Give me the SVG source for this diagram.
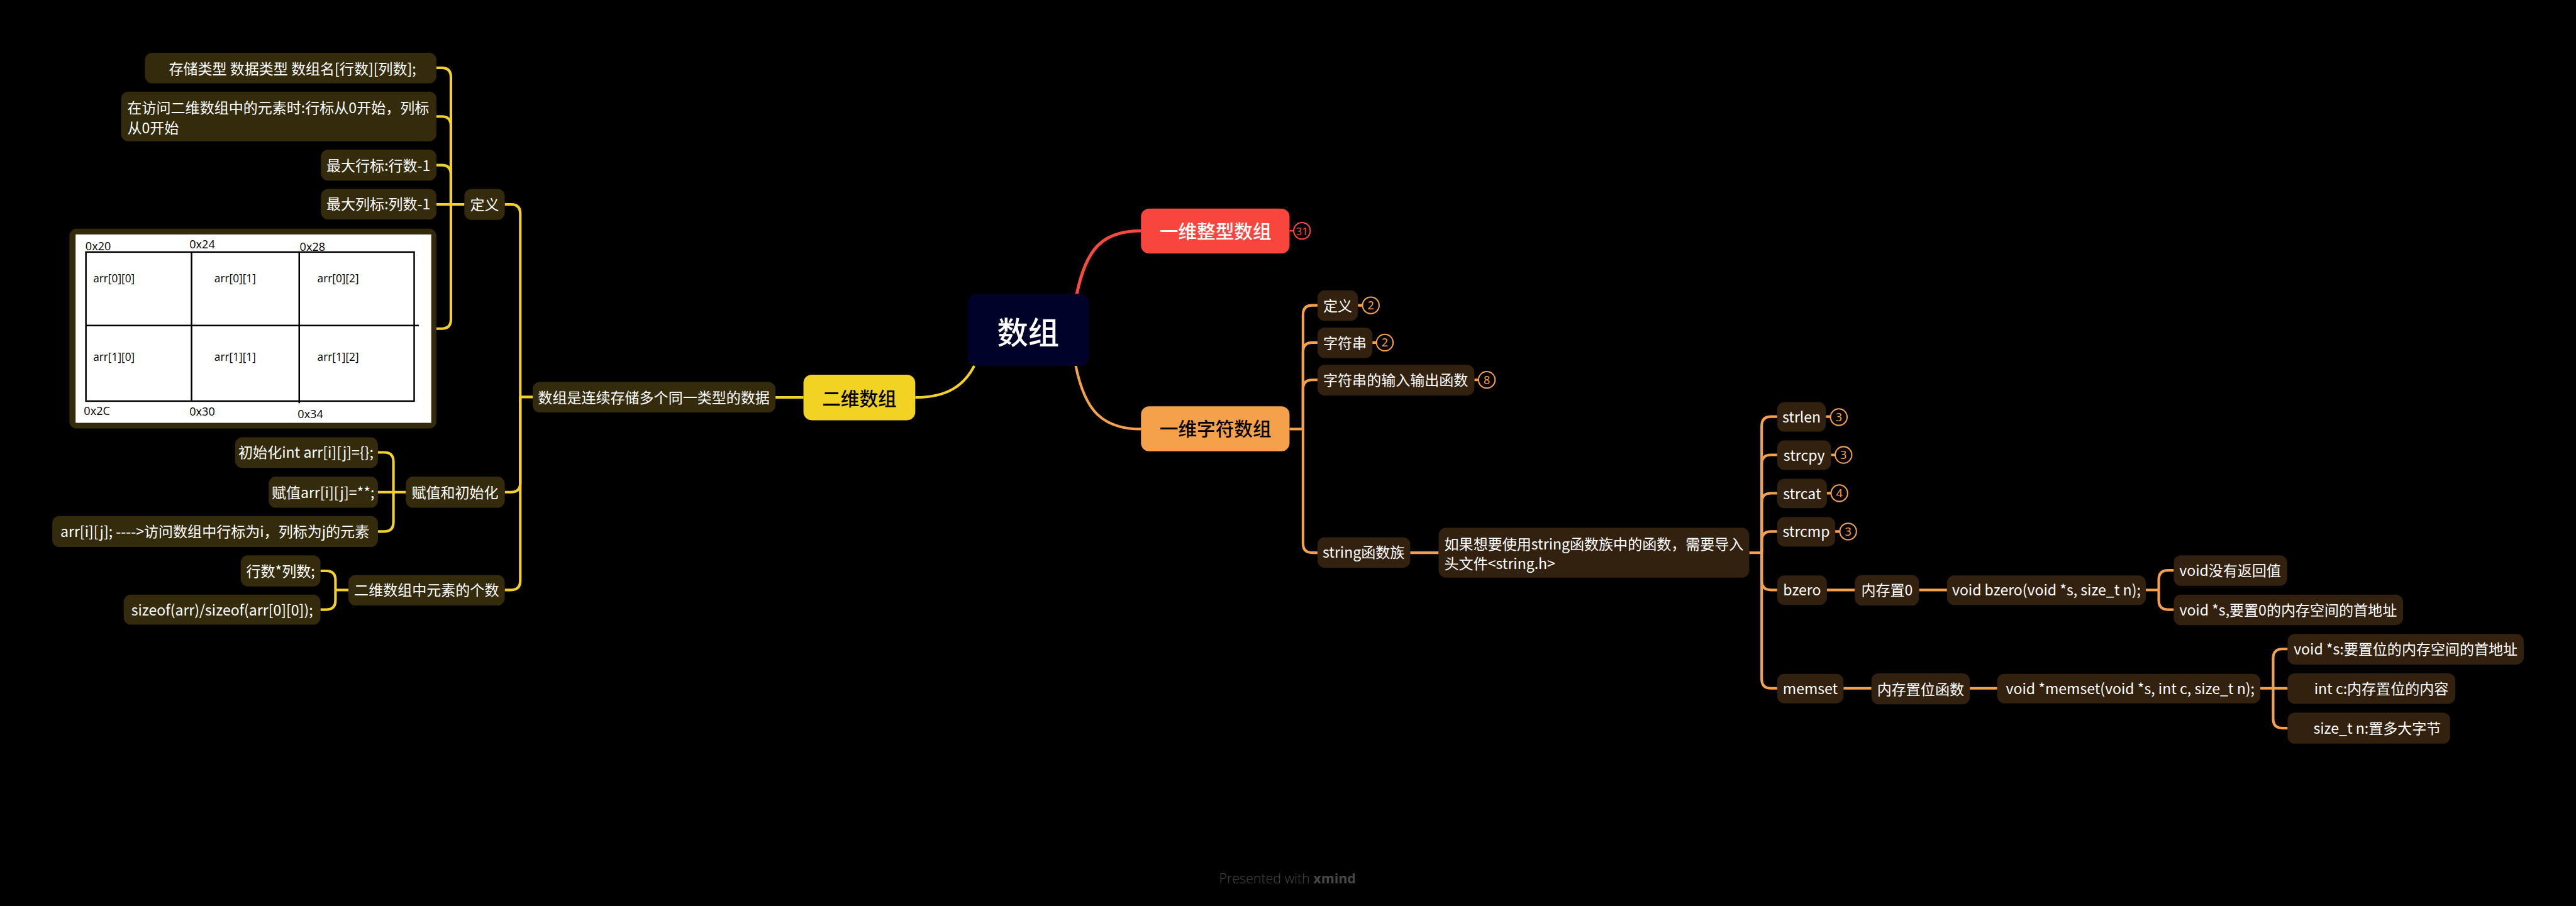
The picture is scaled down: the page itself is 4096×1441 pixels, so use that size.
<svg xmlns="http://www.w3.org/2000/svg" width="4096" height="1441" viewBox="0 0 4096 1441">
<style>
.ny{fill:#332B0C}
.no{fill:#33210F}
.t{font-family:"Noto Sans CJK SC","Noto Sans",sans-serif;font-size:28px;fill:#FFFFFF;text-anchor:middle}
.ts{font-family:"Noto Sans CJK SC","Noto Sans",sans-serif;font-size:28px;fill:#FFFFFF}
.tb{font-family:"Noto Sans CJK SC","Noto Sans",sans-serif;font-size:36px;text-anchor:middle;font-weight:500}
.ly{fill:none;stroke:#F2D22A;stroke-width:5}
.lo{fill:none;stroke:#F5A04B;stroke-width:5}
.lr{fill:none;stroke:#F84A3F;stroke-width:6}
.bo{fill:#000;stroke:#F5A04B;stroke-width:2.5}
.bn{font-family:"Noto Sans","Liberation Sans",sans-serif;font-size:22px;fill:#F5A04B;text-anchor:middle}
.tl{font-family:"Open Sans","Liberation Sans",sans-serif;font-size:22px;fill:#000}
.ta{font-family:"Open Sans","Liberation Sans",sans-serif;font-size:21px;fill:#000}
</style>
<rect width="4096" height="1441" fill="#000"/>
<g transform="scale(0.82315)">
<g id="connectors">
<path class="ly" d="M1882,707 C1862,745 1830,768 1768,768" stroke-width="6"/>
<path class="lr" d="M2080,568 C2098,480 2130,446 2204,446"/>
<path class="lo" d="M2078,707 C2096,795 2130,829 2204,829" stroke-width="6"/>
<path class="ly" d="M1552,768 H1498"/>
<path class="ly" d="M1029,767 H1005 V413 Q1005,395 987,395 H975"/>
<path class="ly" d="M1005,767 V933 Q1005,951 987,951 H975"/>
<path class="ly" d="M1005,767 V1122 Q1005,1140 987,1140 H975"/>
<path class="ly" d="M897,395 H843"/>
<path class="ly" d="M871,395 V149 Q871,131 853,131 H843"/>
<path class="ly" d="M871,395 V243 Q871,225 853,225 H843"/>
<path class="ly" d="M871,395 V337 Q871,319 853,319 H843"/>
<path class="ly" d="M871,395 V617 Q871,635 853,635 H843"/>
<path class="ly" d="M784,951 H730"/>
<path class="ly" d="M760,951 V892 Q760,874 742,874 H730"/>
<path class="ly" d="M760,951 V1009 Q760,1027 742,1027 H730"/>
<path class="ly" d="M673,1140 H648"/>
<path class="ly" d="M648,1140 V1121 Q648,1103 630,1103 H619"/>
<path class="ly" d="M648,1140 V1160 Q648,1178 630,1178 H619"/>
<path class="lo" d="M2491,829 H2517"/>
<path class="lo" d="M2517,829 V608 Q2517,590 2535,590 H2545"/>
<path class="lo" d="M2517,829 V680 Q2517,662 2535,662 H2545"/>
<path class="lo" d="M2517,829 V752 Q2517,734 2535,734 H2545"/>
<path class="lo" d="M2517,829 V1050 Q2517,1068 2535,1068 H2545"/>
<path class="lo" d="M2724,1068 H2779"/>
<path class="lo" d="M3379,1068 H3403"/>
<path class="lo" d="M3403,1068 V823 Q3403,805 3421,805 H3433"/>
<path class="lo" d="M3403,1068 V897 Q3403,879 3421,879 H3433"/>
<path class="lo" d="M3403,1068 V971 Q3403,953 3421,953 H3433"/>
<path class="lo" d="M3403,1068 V1045 Q3403,1027 3421,1027 H3433"/>
<path class="lo" d="M3403,1068 V1122 Q3403,1140 3421,1140 H3433"/>
<path class="lo" d="M3403,1068 V1312 Q3403,1330 3421,1330 H3433"/>
<path class="lo" d="M3529,1140 H3583"/>
<path class="lo" d="M3707,1140 H3761"/>
<path class="lo" d="M4145,1140 H4170"/>
<path class="lo" d="M4170,1140 V1120 Q4170,1102 4188,1102 H4199"/>
<path class="lo" d="M4170,1140 V1160 Q4170,1178 4188,1178 H4199"/>
<path class="lo" d="M3561,1330 H3615"/>
<path class="lo" d="M3805,1330 H3858"/>
<path class="lo" d="M4366,1330 H4419"/>
<path class="lo" d="M4391,1330 V1272 Q4391,1254 4409,1254 H4419"/>
<path class="lo" d="M4391,1330 V1389 Q4391,1407 4409,1407 H4419"/>
<path class="lo" d="M2623,590 H2632 M2651,662 H2659 M2848,734 H2856 M3527,805 H3536 M3537,879 H3545 M3529,953 H3537 M3545,1027 H3554" stroke-width="3"/>
<path d="M2491,446 H2499" stroke="#F84A3F" stroke-width="3"/>
</g>

<g id="root">
<rect x="1869" y="568" width="235" height="139" rx="18" fill="#000229"/>
<text x="1986" y="664" font-family="Noto Sans CJK SC, sans-serif" font-size="60" font-weight="500" fill="#FFFFFF" text-anchor="middle">数组</text>
</g>

<g id="n-2d">
<rect x="1552" y="724" width="216" height="88" rx="16" fill="#F2D324"/>
<text class="tb" x="1660" y="784" fill="#000">二维数组</text>
</g>
<g id="n-1dint">
<rect x="2204" y="403" width="287" height="87" rx="16" fill="#F8453D"/>
<text class="tb" x="2348" y="460" fill="#FFFFFF">一维整型数组</text>
<circle cx="2515" cy="446" r="16" fill="#000" stroke="#F84A3F" stroke-width="2.5"/>
<text x="2515" y="454" font-family="Noto Sans, sans-serif" font-size="20" fill="#F84A3F" text-anchor="middle">31</text>
</g>
<g id="n-1dchar">
<rect x="2204" y="785" width="287" height="87" rx="16" fill="#F5A04B"/>
<text class="tb" x="2348" y="842" fill="#000">一维字符数组</text>
</g>

<g id="n-l1">
<rect class="ny" x="1029" y="738" width="469" height="59" rx="14"/>
<text class="t" x="1263" y="779">数组是连续存储多个同一类型的数据</text>
</g>
<g id="n-def">
<rect class="ny" x="897" y="365" width="78" height="60" rx="14"/>
<text class="t" x="936" y="406">定义</text>
</g>
<g id="n-a1">
<rect class="ny" x="280" y="102" width="563" height="59" rx="14"/>
<text class="t" x="565" y="143">存储类型 数据类型 数组名[行数][列数];</text>
</g>
<g id="n-a2">
<rect class="ny" x="234" y="177" width="609" height="96" rx="14"/>
<text class="ts" x="246" y="219">在访问二维数组中的元素时:行标从0开始，列标</text>
<text class="ts" x="246" y="257">从0开始</text>
</g>
<g id="n-a3">
<rect class="ny" x="620" y="289" width="223" height="60" rx="14"/>
<text class="t" x="731" y="330">最大行标:行数-1</text>
</g>
<g id="n-a4">
<rect class="ny" x="620" y="365" width="223" height="59" rx="14"/>
<text class="t" x="731" y="405">最大列标:列数-1</text>
</g>
<g id="n-table">
<rect class="ny" x="134" y="442" width="709" height="386" rx="14"/>
<rect x="146" y="453" width="687" height="364" fill="#FFFFFF"/>
<rect x="166" y="487" width="634" height="288" fill="none" stroke="#000" stroke-width="3"/>
<path d="M370,487 V775 M578,487 V779 M166,629 H809" stroke="#000" stroke-width="3" fill="none"/>
<text class="tl" x="165" y="483">0x20</text>
<text class="tl" x="366" y="480">0x24</text>
<text class="tl" x="579" y="485">0x28</text>
<text class="ta" x="180" y="545">arr[0][0]</text>
<text class="ta" x="414" y="545">arr[0][1]</text>
<text class="ta" x="613" y="545">arr[0][2]</text>
<text class="ta" x="180" y="697">arr[1][0]</text>
<text class="ta" x="414" y="697">arr[1][1]</text>
<text class="ta" x="613" y="697">arr[1][2]</text>
<text class="tl" x="162" y="802">0x2C</text>
<text class="tl" x="366" y="803">0x30</text>
<text class="tl" x="575" y="808">0x34</text>
</g>
<g id="n-assign">
<rect class="ny" x="784" y="921" width="191" height="60" rx="14"/>
<text class="t" x="879" y="962">赋值和初始化</text>
</g>
<g id="n-init">
<rect class="ny" x="454" y="845" width="276" height="59" rx="14"/>
<text class="t" x="591" y="885">初始化int arr[i][j]={};</text>
</g>
<g id="n-set">
<rect class="ny" x="519" y="921" width="211" height="60" rx="14"/>
<text class="t" x="624" y="962">赋值arr[i][j]=**;</text>
</g>
<g id="n-access">
<rect class="ny" x="101" y="997" width="629" height="60" rx="14"/>
<text class="t" x="415" y="1038">arr[i][j]; ----&gt;访问数组中行标为i，列标为j的元素</text>
</g>
<g id="n-count">
<rect class="ny" x="673" y="1111" width="302" height="59" rx="14"/>
<text class="t" x="824" y="1151">二维数组中元素的个数</text>
</g>
<g id="n-rc">
<rect class="ny" x="465" y="1073" width="154" height="60" rx="14"/>
<text class="t" x="542" y="1114">行数*列数;</text>
</g>
<g id="n-sizeof">
<rect class="ny" x="239" y="1149" width="380" height="58" rx="14"/>
<text class="t" x="429" y="1189">sizeof(arr)/sizeof(arr[0][0]);</text>
</g>

<g id="n-cdef">
<rect class="no" x="2545" y="561" width="78" height="59" rx="14"/>
<text class="t" x="2584" y="601">定义</text>
<circle class="bo" cx="2648" cy="590" r="16"/>
<text class="bn" x="2648" y="598">2</text>
</g>
<g id="n-str">
<rect class="no" x="2545" y="633" width="106" height="59" rx="14"/>
<text class="t" x="2598" y="673">字符串</text>
<circle class="bo" cx="2675" cy="662" r="16"/>
<text class="bn" x="2675" y="670">2</text>
</g>
<g id="n-io">
<rect class="no" x="2545" y="705" width="303" height="59" rx="14"/>
<text class="t" x="2696" y="745">字符串的输入输出函数</text>
<circle class="bo" cx="2872" cy="734" r="16"/>
<text class="bn" x="2872" y="742">8</text>
</g>
<g id="n-strfam">
<rect class="no" x="2545" y="1038" width="179" height="59" rx="14"/>
<text class="t" x="2634" y="1078">string函数族</text>
</g>
<g id="n-include">
<rect class="no" x="2779" y="1020" width="600" height="96" rx="14"/>
<text class="ts" x="2790" y="1062">如果想要使用string函数族中的函数，需要导入</text>
<text class="ts" x="2790" y="1100">头文件&lt;string.h&gt;</text>
</g>
<g id="n-strlen">
<rect class="no" x="3433" y="777" width="94" height="57" rx="14"/>
<text class="t" x="3480" y="816">strlen</text>
<circle class="bo" cx="3552" cy="806" r="16"/>
<text class="bn" x="3552" y="814">3</text>
</g>
<g id="n-strcpy">
<rect class="no" x="3433" y="851" width="104" height="57" rx="14"/>
<text class="t" x="3485" y="890">strcpy</text>
<circle class="bo" cx="3561" cy="879" r="16"/>
<text class="bn" x="3561" y="887">3</text>
</g>
<g id="n-strcat">
<rect class="no" x="3433" y="925" width="96" height="57" rx="14"/>
<text class="t" x="3481" y="964">strcat</text>
<circle class="bo" cx="3553" cy="953" r="16"/>
<text class="bn" x="3553" y="961">4</text>
</g>
<g id="n-strcmp">
<rect class="no" x="3433" y="999" width="112" height="57" rx="14"/>
<text class="t" x="3489" y="1038">strcmp</text>
<circle class="bo" cx="3570" cy="1027" r="16"/>
<text class="bn" x="3570" y="1035">3</text>
</g>
<g id="n-bzero">
<rect class="no" x="3433" y="1112" width="96" height="57" rx="14"/>
<text class="t" x="3481" y="1151">bzero</text>
</g>
<g id="n-zero">
<rect class="no" x="3583" y="1111" width="124" height="59" rx="14"/>
<text class="t" x="3645" y="1151">内存置0</text>
</g>
<g id="n-bzsig">
<rect class="no" x="3761" y="1112" width="384" height="57" rx="14"/>
<text class="t" x="3953" y="1151">void bzero(void *s, size_t n);</text>
</g>
<g id="n-noret">
<rect class="no" x="4199" y="1073" width="219" height="59" rx="14"/>
<text class="t" x="4308" y="1113">void没有返回值</text>
</g>
<g id="n-bzs">
<rect class="no" x="4199" y="1149" width="443" height="59" rx="14"/>
<text class="t" x="4420" y="1189">void *s,要置0的内存空间的首地址</text>
</g>
<g id="n-memset">
<rect class="no" x="3433" y="1302" width="128" height="57" rx="14"/>
<text class="t" x="3497" y="1341">memset</text>
</g>
<g id="n-memfn">
<rect class="no" x="3615" y="1301" width="190" height="60" rx="14"/>
<text class="t" x="3710" y="1342">内存置位函数</text>
</g>
<g id="n-mssig">
<rect class="no" x="3858" y="1302" width="508" height="57" rx="14"/>
<text class="t" x="4115" y="1341">void *memset(void *s, int c, size_t n);</text>
</g>
<g id="n-mss">
<rect class="no" x="4419" y="1225" width="456" height="59" rx="14"/>
<text class="t" x="4647" y="1265">void *s:要置位的内存空间的首地址</text>
</g>
<g id="n-msc">
<rect class="no" x="4419" y="1301" width="324" height="59" rx="14"/>
<text class="t" x="4600" y="1341">int c:内存置位的内容</text>
</g>
<g id="n-msn">
<rect class="no" x="4419" y="1377" width="314" height="60" rx="14"/>
<text class="t" x="4592" y="1418">size_t n:置多大字节</text>
</g>

<text x="2355" y="1707" font-family="Open Sans, sans-serif" font-size="26" font-weight="300" fill="#474747">Presented with <tspan font-weight="700">xmind</tspan></text>
</g>
</svg>
